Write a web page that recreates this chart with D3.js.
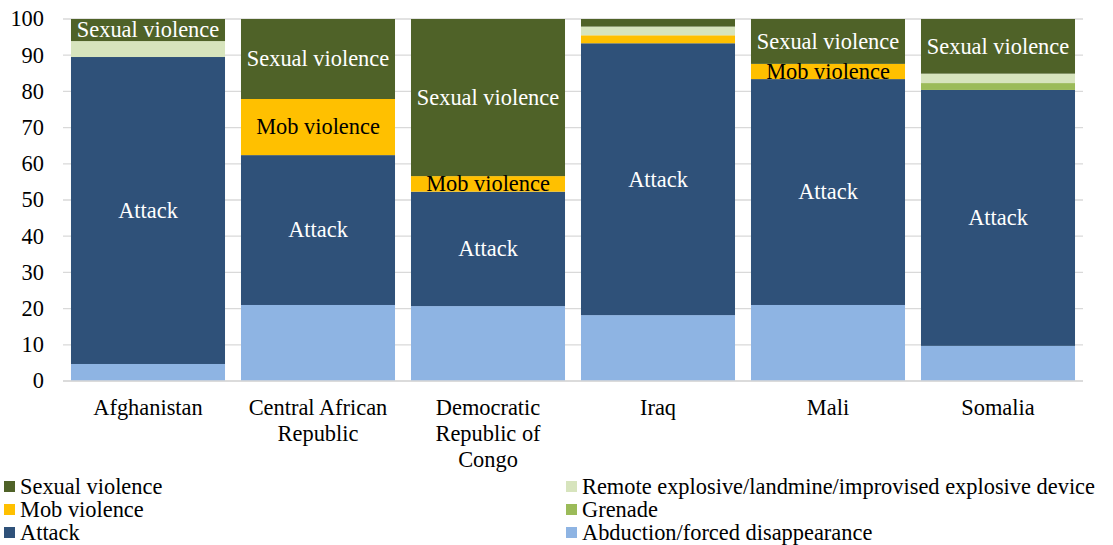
<!DOCTYPE html>
<html>
<head>
<meta charset="utf-8">
<script src="https://cdn.jsdelivr.net/npm/d3@7/dist/d3.min.js"></script>
<style>
  #incidents text { font-family: "Times New Roman", "Liberation Serif", Tinos, serif !important; }
</style>
</head>
<body style="margin:0">
<svg id="incidents" width="1113" height="545"></svg>
<script>
// Countries (multi-line labels split with "\n")
const countries = ["Afghanistan", "Central African\nRepublic", "Democratic\nRepublic of\nCongo", "Iraq", "Mali", "Somalia"];

// Share of incidents by type, per country (%), stacked bottom-up
const abduction = [4.7, 21.0, 20.7, 18.2, 21.0, 9.7];
const attack    = [84.8, 41.4, 31.6, 75.1, 62.4, 70.7];
const grenade   = [0, 0, 0, 0, 0, 1.9];
const mob       = [0, 15.5, 4.3, 2.2, 4.2, 0];
const remote    = [4.4, 0, 0, 2.4, 0, 2.6];
const sexual    = [6.1, 22.1, 43.4, 2.1, 12.4, 15.1];

const yTicks = [0, 10, 20, 30, 40, 50, 60, 70, 80, 90, 100];

const seriesNames = ["Abduction/forced disappearance", "Attack", "Grenade", "Mob violence",
  "Remote explosive/landmine/improvised explosive device", "Sexual violence"];
const seriesValues = [abduction, attack, grenade, mob, remote, sexual];
const colors = ["#8EB4E3", "#2F5179", "#9BBB59", "#FFC000", "#D7E4BD", "#4F6228"];
const labelled = { "Attack": "#fff", "Mob violence": "#000", "Sexual violence": "#fff" };

const FONT = "Times New Roman";
const FS = 22.4;

const rows = countries.map((c, i) => {
  const r = { country: c };
  seriesNames.forEach((s, k) => r[s] = seriesValues[k][i]);
  return r;
});

const svg = d3.select("#incidents");
const m = { left: 63, right: 30, top: 19, bottom: 164 };
const W = 1113, H = 545;

const x = d3.scaleBand().domain(countries).range([m.left, W - m.right])
  .paddingInner(0.094).paddingOuter(0.047);
const y = d3.scaleLinear().domain([0, 100]).range([H - m.bottom, m.top]);

// apply the serif face to a text selection
const serif = sel => sel.attr("font-family", FONT).style("font-family", `"${FONT}"`);

// gridlines
svg.append("g").selectAll("line").data(yTicks).join("line")
  .attr("x1", m.left).attr("x2", W - m.right)
  .attr("y1", d => y(d)).attr("y2", d => y(d))
  .attr("stroke", "#d9d9d9").attr("stroke-width", 1.3);

// y tick labels
svg.append("g").selectAll("text").data(yTicks).join("text")
  .attr("x", 44).attr("y", d => y(d)).attr("dy", "0.33em")
  .attr("text-anchor", "end").attr("font-size", FS).attr("fill", "#000")
  .call(serif)
  .text(d => d);

const stack = d3.stack().keys(seriesNames);
const layers = stack(rows);

const g = svg.append("g");
layers.forEach((layer, k) => {
  g.append("g").attr("fill", colors[k]).selectAll("rect").data(layer).join("rect")
    .attr("x", d => x(d.data.country))
    .attr("width", x.bandwidth())
    .attr("y", d => y(d[1]))
    .attr("height", d => y(d[0]) - y(d[1]));
});

// segment labels
layers.forEach(layer => {
  const name = layer.key;
  if (!(name in labelled)) return;
  svg.append("g").selectAll("text").data(layer.filter(d => d[1] - d[0] >= 4)).join("text")
    .attr("x", d => x(d.data.country) + x.bandwidth() / 2)
    .attr("y", d => (y(d[0]) + y(d[1])) / 2)
    .attr("dy", "0.33em")
    .attr("text-anchor", "middle").attr("font-size", FS)
    .attr("fill", labelled[name])
    .call(serif)
    .text(name);
});

// x axis baseline
svg.append("line").attr("x1", m.left).attr("x2", W - m.right)
  .attr("y1", y(0)).attr("y2", y(0)).attr("stroke", "#d9d9d9").attr("stroke-width", 1.3);

// category labels, one text per line
const catLines = [];
countries.forEach(c => c.split("\n").forEach((line, i) => catLines.push({ c, line, i })));
svg.append("g").selectAll("text").data(catLines).join("text")
  .attr("x", d => x(d.c) + x.bandwidth() / 2)
  .attr("y", d => 415 + d.i * 26)
  .attr("text-anchor", "middle").attr("font-size", FS).attr("fill", "#000")
  .call(serif)
  .text(d => d.line);

// legend: two columns, three rows
const legendOrder = ["Sexual violence", "Remote explosive/landmine/improvised explosive device",
  "Mob violence", "Grenade", "Attack", "Abduction/forced disappearance"];
const lg = svg.append("g");
legendOrder.forEach((name, i) => {
  const col = i % 2, row = Math.floor(i / 2);
  const lx = col === 0 ? 4 : 566;
  const ly = 487 + row * 23;
  lg.append("rect").attr("x", lx).attr("y", ly - 6).attr("width", 11).attr("height", 11)
    .attr("fill", colors[seriesNames.indexOf(name)]);
  lg.append("text").attr("x", lx + 16).attr("y", ly).attr("dy", "0.33em")
    .attr("font-size", FS).attr("fill", "#000")
    .call(serif)
    .text(name);
});
</script>
</body>
</html>
